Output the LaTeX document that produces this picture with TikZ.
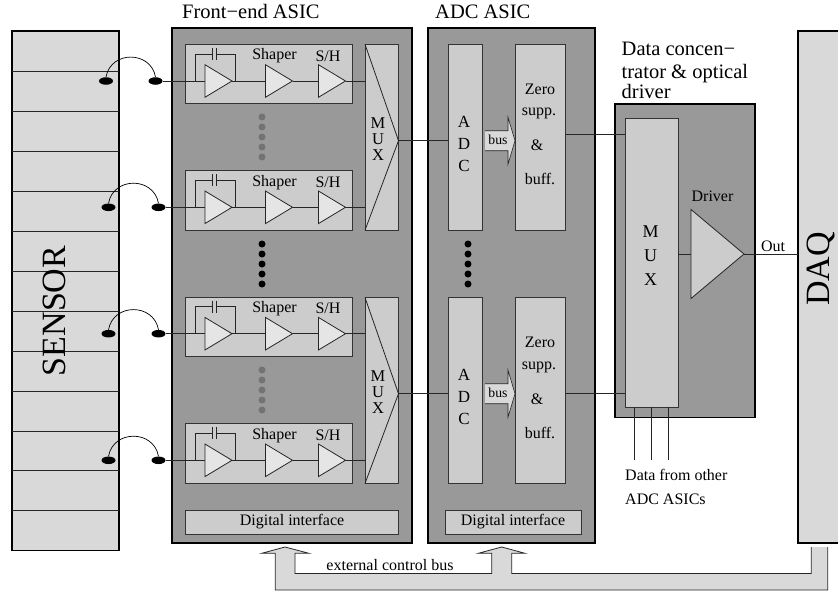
\documentclass[tikz,border=0pt]{standalone}
\usepackage{fontspec}
\setmainfont{Liberation Serif}
\usepackage{xcolor}
\usetikzlibrary{shapes.geometric}
\definecolor{asicgray}{gray}{0.60}
\definecolor{blkgray}{gray}{0.80}
\definecolor{paleg}{gray}{0.85}
\definecolor{trigray}{gray}{0.90}
\newcommand{\fsz}[1]{\fontsize{#1}{#1}\selectfont}

\begin{document}
\begin{tikzpicture}[x=1pt, y=-1pt, font=\fsz{16},
  blk/.style={draw=black!80, rectangle, inner sep=0pt, outer sep=0pt, line width=0.9pt, fill=#1},
  blk/.default=blkgray,
  asic/.style={draw, rectangle, inner sep=0pt, outer sep=0pt, line width=1.4pt, fill=#1},
  asic/.default=asicgray,
  tri/.style={draw=black!85, isosceles triangle, isosceles triangle stretches, shape border rotate=0, inner sep=0pt, outer sep=0pt, anchor=west, line width=0.8pt, fill=#1},
  tri/.default=trigray,
  wire/.style={line width=0.8pt, black!85},
  pad/.style={ellipse, fill=black, inner sep=0pt, minimum width=14pt, minimum height=7.5pt},
  dotk/.style={circle, fill=#1, inner sep=0pt, minimum size=7pt},
  head/.style={font=\fsz{20.5}, inner sep=0pt},
  lab/.style={inner sep=0pt}]
  \useasboundingbox (0,0) rectangle (838,595);
  % sensor strips
  \node[asic=paleg, minimum width=107pt, minimum height=519.5pt] (sensor) at (65.5,290.75) {};
  \foreach \y in {71,111,151,191,231,271,311,351,391,431,470,510}
    \draw[wire] (sensor.west |- 0,\y) -- (sensor.east |- 0,\y);
  \node[lab, font=\fsz{34}, rotate=90] (senslab) at (54,311) {SENSOR};
  % the ASIC boxes
  \node[asic, minimum width=240pt, minimum height=515pt] (fe) at (292,285.5) {};
  \node[asic, minimum width=167pt, minimum height=515pt] (adcasic) at (511.5,285.5) {};
  \node[asic, minimum width=140pt, minimum height=313.5pt] (conc) at (685,260.75) {};
  \node[asic=paleg, minimum width=47pt, minimum height=512pt] (daq) at (821.5,287) {};
  \node[lab, font=\fsz{34}, rotate=90] (daqlab) at (821,269) {DAQ};
  \node[head, anchor=base west] (felab) at (182,18) {Front−end ASIC};
  \node[head, anchor=base west] (adclab) at (435,18) {ADC ASIC};
  \node[head, anchor=base west] (conclab) at (621.5,55) {Data concen−};
  \node[head, anchor=base west] (conclab2) at (621.5,78) {trator \& optical};
  \node[head, anchor=base west] (conclab3) at (621.5,98) {driver};
  % front-end channels
  \foreach \ch/\y/\xa/\xb in {a/81/106/155.5, b/207.3/108.5/158.5, c/333.7/108.5/158.5, d/460.3/108.5/158.5} {
    \node[blk, minimum width=166.5pt, minimum height=59.5pt] (chan\ch) at (268.75,\y-7) {};
    \node[pad] (padl\ch) at (\xa,\y) {};
    \node[pad] (padr\ch) at (\xb,\y) {};
    \node[tri, minimum height=27pt, minimum width=32.5pt] (amp\ch) at (205,\y) {};
    \node[tri, minimum height=27pt, minimum width=32.5pt] (shp\ch) at (265.5,\y) {};
    \node[tri, minimum height=27pt, minimum width=32.5pt] (sh\ch) at (318.5,\y) {};
    \node[lab] (shplab\ch) at (274.5,\y-25) {Shaper};
    \node[lab] (shlab\ch) at (328,\y-25) {S/H};
    \draw[black, line width=0.7pt] (padl\ch.north) to[out=80, in=100, looseness=1.4] (padr\ch.north);
    \draw[wire] (padr\ch) -- (amp\ch.west);
    \draw[wire] (amp\ch.east) -- (shp\ch.west);
    \draw[wire] (shp\ch.east) -- (sh\ch.west);
    % feedback with capacitor
    \coordinate (capl\ch) at (212.5,\y-27);
    \coordinate (capr\ch) at (216,\y-27);
    \draw[wire] (195,\y) -- (195,\y-27) -- (capl\ch) (capr\ch) -- (235.5,\y-27) -- (235.5,\y);
    \draw[wire] (212.5,\y-33) -- (212.5,\y-21) (216,\y-33) -- (216,\y-21);
  }
  % dots between the channels
  \foreach \y in {117,127,137,147,157}
    \node[dotk=black!55] (dota\y) at (262,\y) {};
  \foreach \y in {370,380,390,400,410}
    \node[dotk=black!55] (dotb\y) at (262,\y) {};
  \foreach \y in {244,254,264,274,284} {
    \node[dotk=black] (dotc\y) at (262,\y) {};
    \node[dotk=black] (dotd\y) at (468,\y) {};
  }
  % MUX, ADC, zero suppression
  \foreach \m/\y/\t/\ca/\cb in {a/137.25/140.7/a/b, b/390.5/393.7/c/d} {
    \node[blk, minimum width=33.5pt, minimum height=186pt] (mux\m) at (381.75,\y) {};
    \coordinate (tip\m) at (398.5,\t);
    \draw[wire] (mux\m.north west) -- (tip\m) -- (mux\m.south west);
    \node[lab, align=center, font=\fsz{16.5}] (muxlab\m) at (378,\t-2) {M\\[-0.5pt]U\\[-0.5pt]X};
    \draw[wire] (sh\ca.east) -- (sh\ca.east -| mux\m.west);
    \draw[wire] (sh\cb.east) -- (sh\cb.east -| mux\m.west);
    \node[blk, minimum width=34pt, minimum height=186pt] (adc\m) at (465,\y) {};
    \node[lab, align=center, font=\fsz{17}] (adclab\m) at (464,\t+3) {A\\[5pt]D\\[5pt]C};
    \node[blk, minimum width=50pt, minimum height=186pt] (zero\m) at (540,\y) {};
    \node[lab] (zl\m) at (540,\y-48) {Zero};
    \node[lab] (sl\m) at (539,\y-23.5) {supp.};
    \node[lab] (al\m) at (537,\y+8.5) {\&};
    \node[lab] (bl\m) at (540,\y+42) {buff.};
    \draw[wire] (tip\m) -- (tip\m -| adc\m.west);
    % bus arrow
    \draw[wire, line width=0.6pt, fill=paleg] (485,\t-10) -- (508,\t-10) -- (508,\t-23.5) -- (515,\t) -- (508,\t+23.5) -- (508,\t+10) -- (485,\t+10);
    \node[lab, font=\fsz{13.7}] (buslab\m) at (498,\t-1) {bus};
  }
  % concentrator
  \node[blk, minimum width=53pt, minimum height=289pt] (muxc) at (651.5,262.5) {};
  \node[lab, align=center, font=\fsz{18}] (muxclab) at (650.5,256) {M\\[6pt]U\\[6pt]X};
  \node[tri=blkgray, minimum height=53pt, minimum width=89pt] (drv) at (691,254) {};
  \node[lab] (drvlab) at (712.5,196) {Driver};
  \node[lab] (outlab) at (773,246) {Out};
  \draw[wire] (muxc.east |- drv.west) -- (drv.west);
  \draw[wire] (drv.east) -- (drv.east -| daq.west);
  \draw[wire] (zeroa.east |- 0,134) -- (muxc.west |- 0,134);
  \draw[wire] (zerob.east |- tipb) -- (muxc.west |- tipb);
  \coordinate (ina) at (634.7,460);
  \coordinate (inb) at (651.5,460);
  \coordinate (inc) at (668,460);
  \draw[wire] (muxc.south -| ina) -- (ina);
  \draw[wire] (muxc.south -| inb) -- (inb);
  \draw[wire] (muxc.south -| inc) -- (inc);
  \node[lab, anchor=base west] (otherlab) at (625,480) {Data from other};
  \node[lab, anchor=base west] (otherlab2) at (625,504) {ADC ASICs};
  % digital interfaces
  \node[blk, minimum width=213pt, minimum height=24pt] (difa) at (292,522) {Digital interface};
  \node[blk, minimum width=136pt, minimum height=24pt] (difb) at (513,522) {Digital interface};
  % external control bus
  \draw[black!85, line width=0.8pt, fill=paleg] (811.3,547) -- (811.3,573.5) -- (511.7,573.5) -- (511.7,553.3) -- (525,553.3) -- (501.7,547) -- (478.3,553.3) -- (491.7,553.3) -- (491.7,573.5) -- (295,573.5) -- (295,553.3) -- (309,553.3) -- (285,547) -- (261.7,553.3) -- (275.3,553.3) -- (275.3,590) -- (827.7,590) -- (827.7,547);
  \node[lab] (buslab) at (390,565) {external control bus};
\end{tikzpicture}
\end{document}
